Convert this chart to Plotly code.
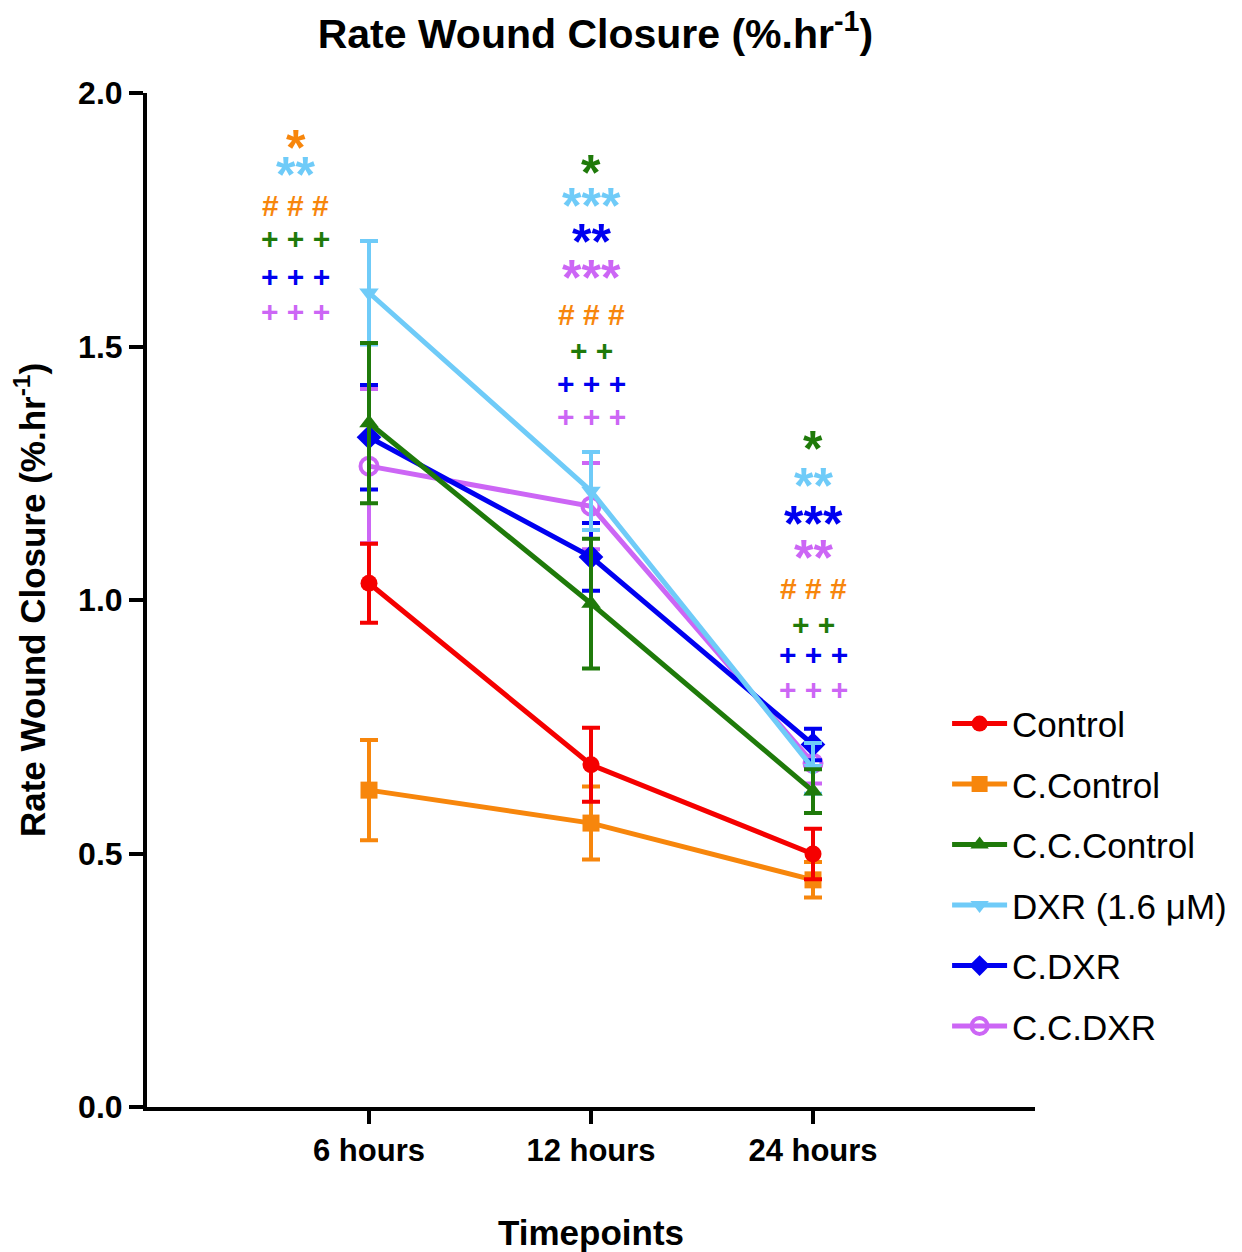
import plotly.graph_objects as go

timepoints = ["6 hours", "12 hours", "24 hours"]
xpos = [0, 1, 2]

series_names = ["Control", "C.Control", "C.C.Control", "DXR (1.6 μM)", "C.DXR", "C.C.DXR"]
control = [1.033, 0.675, 0.499]
control_err = [0.078, 0.073, 0.05]
c_control = [0.625, 0.560, 0.448]
c_control_err = [0.099, 0.072, 0.035]
cc_control = [1.349, 0.993, 0.623]
cc_control_err = [0.158, 0.128, 0.043]
dxr = [1.606, 1.215, 0.668]
dxr_err = [0.102, 0.077, 0.05]
c_dxr = [1.321, 1.085, 0.715]
c_dxr_err = [0.103, 0.067, 0.031]
cc_dxr = [1.264, 1.185, 0.678]
cc_dxr_err = [0.152, 0.085, 0.04]

colors = ["#F50000", "#F7860C", "#1F7A0A", "#6FCBF8", "#0000F0", "#CC66F5"]
symbols = ["circle", "square", "triangle-up", "triangle-down", "diamond", "circle-open"]
values = [control, c_control, cc_control, dxr, c_dxr, cc_dxr]
errors = [control_err, c_control_err, cc_control_err, dxr_err, c_dxr_err, cc_dxr_err]

# significance annotations: (category position, y, text, color index)
sig_x = [-0.33] * 6 + [1] * 8 + [2] * 8
sig_y = [1.907, 1.854, 1.779, 1.714, 1.639, 1.570,
         1.858, 1.793, 1.722, 1.651, 1.564, 1.493, 1.428, 1.361,
         1.314, 1.241, 1.166, 1.099, 1.022, 0.951, 0.892, 0.824]
sig_text = ["*", "**", "# # #", "+ + +", "+ + +", "+ + +",
            "*", "***", "**", "***", "# # #", "+ +", "+ + +", "+ + +",
            "*", "**", "***", "**", "# # #", "+ +", "+ + +", "+ + +"]
sig_color = [1, 3, 1, 2, 4, 5,
             2, 3, 4, 5, 1, 2, 4, 5,
             2, 3, 4, 5, 1, 2, 4, 5]

fig = go.Figure()
order = [5, 4, 3, 2, 1, 0]
for i in order:
    fig.add_trace(go.Scatter(
        x=xpos, y=values[i], name=series_names[i], mode="lines+markers",
        line=dict(color=colors[i], width=5),
        marker=dict(symbol=symbols[i], size=17 if symbols[i] != "diamond" else 19,
                    color=colors[i], line=dict(color=colors[i], width=4 if i == 5 else 0)),
        error_y=dict(type="data", array=errors[i], color=colors[i], thickness=4, width=9),
        legendgroup=str(i), legendrank=i + 1,
    ))

for x, y, t, c in zip(sig_x, sig_y, sig_text, sig_color):
    is_star = t.startswith("*")
    fig.add_annotation(x=x, y=y, xref="x", yref="y", text=t, showarrow=False,
                       font=dict(family="Liberation Sans, Arial", size=50 if is_star else 30,
                                 color=colors[c], weight="bold"),
                       yanchor="middle", xanchor="center",
                       yshift=-8 if is_star else 0)

# page body has an 8px margin, so the figure is offset by 8px
fig.update_layout(
    width=1234, height=1244,
    paper_bgcolor="white", plot_bgcolor="white",
    margin=dict(l=139, r=207, t=85, b=145, autoexpand=False),
    font=dict(family="Liberation Sans, Arial", color="black"),
    title=dict(text="<b>Rate Wound Closure (%.hr<sup>-1</sup>)</b>", x=0.476, xanchor="center",
               y=0.979, yanchor="middle", font=dict(size=41, color="black")),
    showlegend=True,
    legend=dict(x=0.901, xanchor="left", y=0.407, yanchor="top", font=dict(size=35, color="black"),
                tracegroupgap=12, bgcolor="rgba(0,0,0,0)", itemwidth=55),
)
fig.update_xaxes(range=[-1, 3], tickmode="array", tickvals=xpos, ticktext=timepoints,
                 showline=True, linecolor="black", linewidth=4, ticks="outside",
                 ticklen=13, tickwidth=4, tickcolor="black", showgrid=False, zeroline=False,
                 tickfont=dict(size=31, color="black", weight="bold"), automargin=False,
                 title=dict(text="<b>Timepoints</b>", font=dict(size=35, color="black"), standoff=60))
fig.update_yaxes(range=[0, 2.0], tickmode="array", tickvals=[0, 0.5, 1.0, 1.5, 2.0],
                 ticktext=["0.0", "0.5", "1.0", "1.5", "2.0"],
                 showline=True, linecolor="black", linewidth=4, ticks="outside",
                 ticklen=14, tickwidth=4, tickcolor="black", showgrid=False, zeroline=False,
                 tickfont=dict(size=32, color="black", weight="bold"), automargin=False,
                 title=dict(text="<b>Rate Wound Closure (%.hr<sup>-1</sup>)</b>",
                            font=dict(size=35, color="black"), standoff=32))

fig.write_html("out.html")
